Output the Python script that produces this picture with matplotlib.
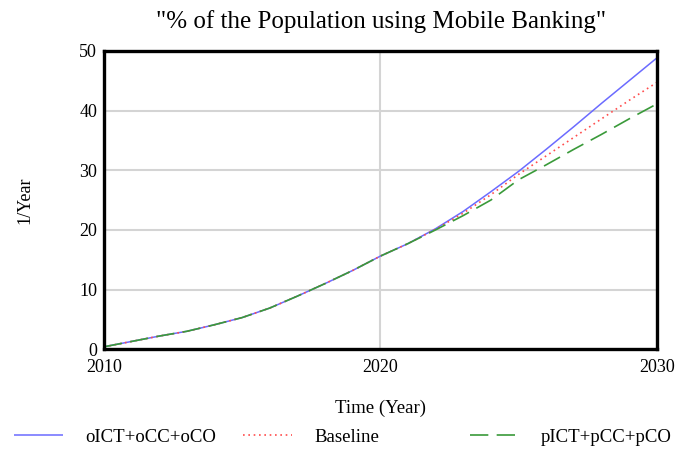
import numpy as np
import matplotlib
matplotlib.use("Agg")
import matplotlib.pyplot as plt

plt.rcParams["font.family"] = ["Liberation Serif", "DejaVu Serif"]

years = list(range(2010, 2031))
# shared history up to ~2022, then the three scenarios split
common = [0.4, 1.3, 2.2, 3.0, 4.1, 5.3, 6.9, 8.9, 11.0, 13.2, 15.6, 17.7]
oict = common + [20.2, 23.1, 26.4, 29.8, 33.5, 37.3, 41.2, 45.0, 48.8]
baseline = common + [20.1, 22.8, 25.9, 29.3, 32.4, 35.5, 38.6, 41.7, 44.7]
pict = common + [20.0, 22.4, 25.0, 28.4, 30.9, 33.5, 36.0, 38.6, 41.1]

labels = ["oICT+oCC+oCO", "Baseline", "pICT+pCC+pCO"]

fig = plt.figure(figsize=(6.75, 4.5), dpi=100)
ax = fig.add_axes([0.154, 0.224, 0.819, 0.663])

l1, = ax.plot(years, oict, color="#6b6bff", lw=1.1, solid_capstyle="butt")
l2, = ax.plot(years, baseline, color="#ff4d4d", lw=1.2, linestyle=(0, (1, 2.2)))
l3, = ax.plot(years, pict, color="#3a9a3a", lw=1.2, linestyle=(0, (11, 5)))

ax.set_xlim(2010, 2030)
ax.set_ylim(0, 50)
ax.set_xticks([2010, 2020, 2030])
ax.set_yticks([0, 10, 20, 30, 40, 50])
ax.tick_params(length=0, labelsize=13)
ax.tick_params(axis="x", pad=7)
ax.tick_params(axis="y", pad=5)
ax.grid(True, color="#d4d4d4", lw=1.5)
ax.set_axisbelow(True)
for s in ax.spines.values():
    s.set_linewidth(2.4)
    s.set_color("black")

fig.text(0.564, 0.953, '"% of the Population using Mobile Banking"',
         fontsize=18, ha="center", va="center")
ax.set_xlabel("Time (Year)", fontsize=13.5, labelpad=17)
ax.set_ylabel("1/Year", fontsize=13, labelpad=33)

# one legend per entry so the three sit in evenly spaced columns
for h, lab, x0 in zip([l1, l2, l3], labels, [0.021, 0.36, 0.696]):
    fig.legend(handles=[h], labels=[lab], loc="center left",
               bbox_to_anchor=(x0, 0.028), frameon=False, fontsize=13.5,
               handlelength=2.6, handletextpad=1.2, borderpad=0, borderaxespad=0)

fig.savefig("out.png", dpi=100)
